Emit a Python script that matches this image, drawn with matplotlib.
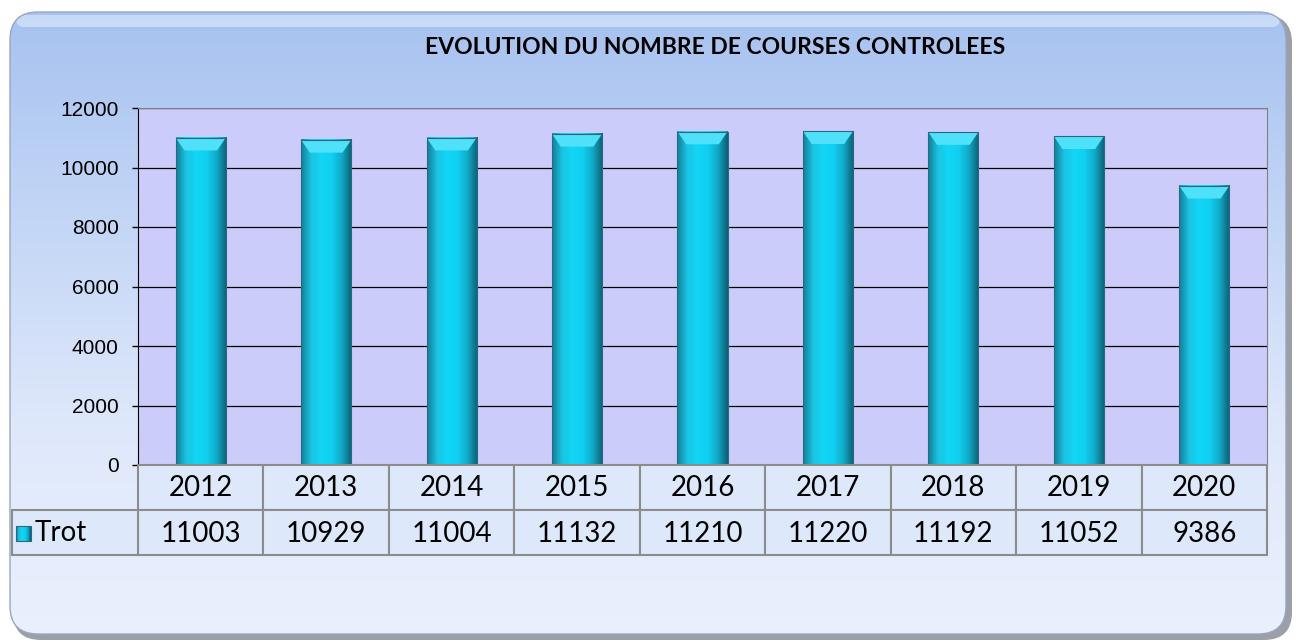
import numpy as np
import matplotlib
matplotlib.use('Agg')
import matplotlib.pyplot as plt
from matplotlib.patches import FancyBboxPatch, Rectangle, Polygon
from matplotlib.colors import LinearSegmentedColormap

years = ['2012', '2013', '2014', '2015', '2016', '2017', '2018', '2019', '2020']
trot = [11003, 10929, 11004, 11132, 11210, 11220, 11192, 11052, 9386]
series_name = 'Trot'
title = 'EVOLUTION DU NOMBRE DE COURSES CONTROLEES'

W, H = 1296, 643
fig = plt.figure(figsize=(W / 100, H / 100), dpi=100)
fig.patch.set_facecolor('white')

def fx(px):
    return px / W

def fy(py):
    return 1 - py / H

# background frame with gradient
bg = fig.add_axes([0, 0, 1, 1])
bg.set_xlim(0, W)
bg.set_ylim(H, 0)
bg.axis('off')
shadow = FancyBboxPatch((13, 15), 1279, 625, boxstyle='round,pad=0,rounding_size=28',
                        facecolor='#9a9fa8', edgecolor='none', zorder=0)
bg.add_patch(shadow)
frame = FancyBboxPatch((10, 12), 1276, 622, boxstyle='round,pad=0,rounding_size=28',
                       facecolor='none', edgecolor='#9aa6c0', linewidth=1, zorder=2)
bg.add_patch(frame)
bg_cmap = LinearSegmentedColormap.from_list('bg', ['#a7c2f0', '#c3d6f6', '#dfe8fb', '#eaf0fd'])
grad = np.linspace(0, 1, 256).reshape(-1, 1)
im = bg.imshow(grad, cmap=bg_cmap, extent=(10, 1286, 634, 12), aspect='auto', zorder=1)
im.set_clip_path(frame)
hl = FancyBboxPatch((16, 15), 1264, 12, boxstyle='round,pad=0,rounding_size=8',
                    facecolor='#d6e6fb', edgecolor='none', alpha=0.7, zorder=1.5)
bg.add_patch(hl)

fig.text(fx(715), fy(47), title, ha='center', va='center', fontsize=16.5,
         fontweight='bold', family='Lato', color='black')

# plot area
px0, px1, py0, py1 = 138, 1267, 108, 465
ax = fig.add_axes([fx(px0), fy(py1), fx(px1 - px0), (py1 - py0) / H])
ax.set_facecolor('#ccccfb')
ax.set_xlim(-0.5, len(years) - 0.5)
ax.set_ylim(0, 12000)
ax.set_yticks(range(0, 12001, 2000))
ax.set_yticklabels([str(v) for v in range(0, 12001, 2000)], family='Liberation Sans', fontsize=15)
ax.set_xticks([])
ax.tick_params(axis='y', length=4.3, width=1, color='black', pad=9.5)
ax.grid(axis='y', color='black', linewidth=0.9)
ax.set_axisbelow(True)
for s in ['top', 'right', 'bottom']:
    ax.spines[s].set_color('#808080')
ax.spines['left'].set_color('black')

bar_cmap = LinearSegmentedColormap.from_list('bar', ['#137e96', '#1cc3e4', '#12d6f6', '#10d0f2', '#12a9c8', '#0b5f73'])
hgrad = np.linspace(0, 1, 128).reshape(1, -1)
bw = 0.4
for i, v in enumerate(trot):
    ax.imshow(hgrad, cmap=bar_cmap, extent=(i - bw / 2, i + bw / 2, 0, v), aspect='auto', zorder=3)
    top = Polygon([(i - bw / 2, v), (i + bw / 2, v), (i + bw / 2 - 0.07, v - 430), (i - bw / 2 + 0.07, v - 430)],
                  closed=True, facecolor='#4fe1fa', edgecolor='none', zorder=4)
    ax.add_patch(top)
    ax.add_patch(Rectangle((i - bw / 2, 0), bw, v, facecolor='none', edgecolor='#2a6a80', linewidth=0.8, zorder=5))
ax.set_xlim(-0.5, len(years) - 0.5)
ax.set_ylim(0, 12000)

# data table
tab = fig.add_axes([0, 0, 1, 1], facecolor='none')
tab.set_xlim(0, W)
tab.set_ylim(H, 0)
tab.axis('off')
cw = (px1 - px0) / len(years)
rows = [(465, 510), (510, 555)]
cell_fc = '#dde9fb'
edge = '#8c8c8c'
for j, yr in enumerate(years):
    x = px0 + j * cw
    for (r0, r1), txt in zip(rows, [yr, str(trot[j])]):
        tab.add_patch(Rectangle((x, r0), cw, r1 - r0, facecolor=cell_fc, edgecolor=edge, linewidth=1.5))
        tab.text(x + cw / 2, (r0 + r1) / 2 + 1, txt, ha='center', va='center', fontsize=20, family='Lato')
tab.add_patch(Rectangle((12, 510), px0 - 12, 45, facecolor=cell_fc, edgecolor=edge, linewidth=1.5))
key = np.linspace(0, 1, 32).reshape(1, -1)
tab.imshow(key, cmap=bar_cmap, extent=(16, 31, 541, 526), aspect='auto', zorder=3)
tab.add_patch(Rectangle((16, 526), 15, 15, facecolor='none', edgecolor='#2a6a80', linewidth=0.8, zorder=4))
tab.text(35, 533, series_name, ha='left', va='center', fontsize=20, family='Lato')
tab.set_xlim(0, W)
tab.set_ylim(H, 0)

fig.savefig('out.png', dpi=100)
